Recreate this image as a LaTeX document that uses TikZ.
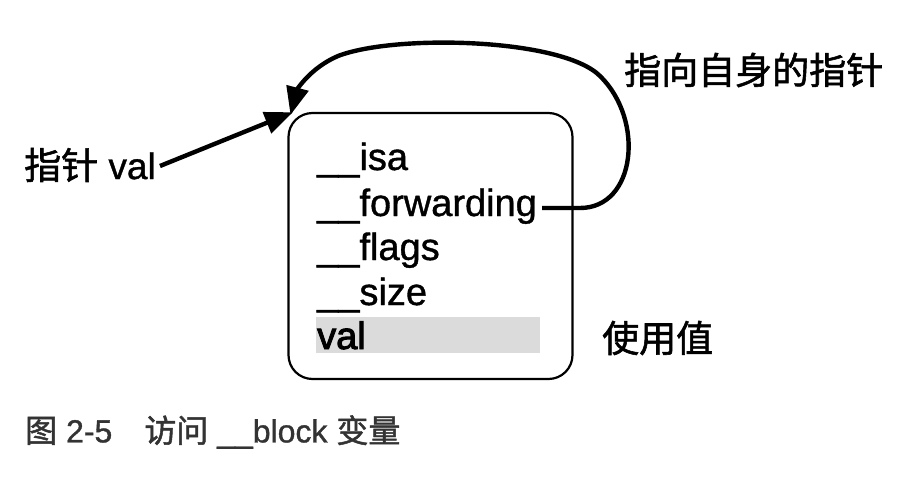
\documentclass[tikz,border=0pt]{standalone}
\usepackage{fontspec}
\setmainfont{Liberation Sans}[FakeBold=1]
\newfontfamily\cjk{Noto Sans CJK SC}[FakeBold=1.5]
\newfontfamily\valfont{Liberation Sans}[FakeBold=2.5]
\usetikzlibrary{arrows.meta}
\tikzset{
  fld/.style={anchor=base west, inner sep=0pt, font=\fontsize{38}{42}\selectfont},
  lbl/.style={inner sep=0pt, font=\fontsize{37}{42}\selectfont},
  thick arrow/.style={line width=4.4pt, -{Triangle[length=28pt,width=22pt]}, shorten >=-2pt},
}
\begin{document}
\begin{tikzpicture}[x=1pt,y=-1pt]
\useasboundingbox (0,0) rectangle (908,477);
% box
\node[draw, line width=2.2pt, rounded corners=24pt, minimum width=284pt, minimum height=266pt, inner sep=0pt] (box) at (430.5,246) {};
% gray highlight
\fill[gray!28] (316,317) rectangle (540,353);
% fields
\node[fld] (isa) at (317,170) {\_\_isa};
\node[fld] (fwd) at (317,216) {\_\_forwarding};
\node[fld] (flags) at (317,260) {\_\_flags};
\node[fld] (size) at (317,305) {\_\_size};
\node[fld] (val) at (317,349) {\valfont val};
% labels
\node[lbl, anchor=west] (ptr) at (24,165) {{\cjk 指针} val};
\node[lbl, anchor=west] (self) at (624,70) {\cjk 指向自身的指针};
\node[lbl, anchor=west] (use) at (602,338) {\cjk 使用值};
\node[inner sep=0pt, anchor=west, text=black!80, font=\fontsize{32}{36}\selectfont] (cap) at (25,432) {{\cjk 图} 2-5\hspace{32pt}{\cjk 访问} \_\_block {\cjk 变量}};
\coordinate (corner) at (291,113);
% arrows
\draw[thick arrow] (ptr.east) ++(4,1) -- (corner);
\draw[thick arrow] (fwd.base east) ++(5,-8) -- (580,208) .. controls (636,208) and (645,120) .. (600,76)
  .. controls (562,38) and (395,34) .. (338,56) .. controls (310,68) and (297,90) .. (corner);
\end{tikzpicture}
\end{document}
